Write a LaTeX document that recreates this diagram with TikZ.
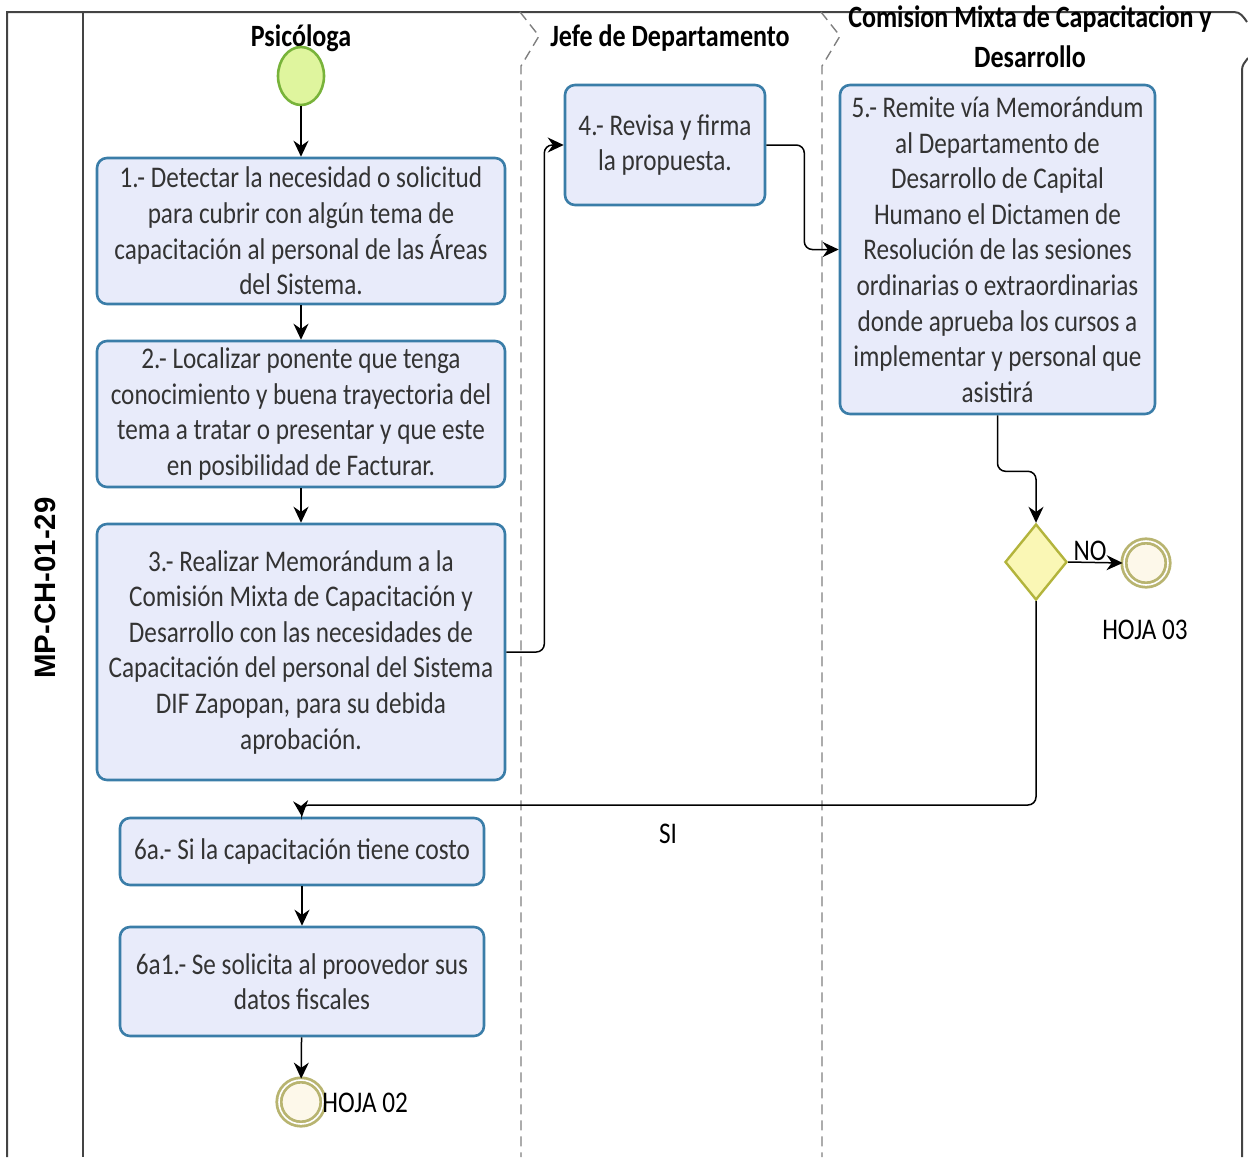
\documentclass[tikz,border=0pt]{standalone}
\usepackage{fontspec}
\setmainfont{Carlito}[FakeStretch=0.84]
\newfontfamily\labfont{Liberation Sans}
\usetikzlibrary{arrows.meta,shapes.geometric}
\definecolor{boxfill}{HTML}{E8EBFA}
\definecolor{boxline}{HTML}{3A7DA8}
\definecolor{startfill}{HTML}{DFF59E}
\definecolor{startline}{HTML}{78B33A}
\definecolor{gwfill}{HTML}{FAF7B5}
\definecolor{gwline}{HTML}{B3B43C}
\definecolor{endfill}{HTML}{FDF8EA}
\definecolor{endline}{HTML}{B8B470}
\definecolor{txt}{HTML}{333333}
\definecolor{lanegray}{HTML}{808080}
\definecolor{framegray}{HTML}{444444}
\begin{document}
\begin{tikzpicture}[x=0.5pt,y=-0.5pt,
  task/.style={draw=boxline, line width=1.3pt, fill=boxfill, rounded corners=5pt,
    align=center, font=\fontsize{15}{17.8}\selectfont, text=txt, inner sep=0pt},
  flow/.style={draw=black, line width=0.75pt, -{Stealth[length=8pt,width=7.5pt]}, rounded corners=4pt},
  lanetitle/.style={font=\fontsize{15.5}{18}\selectfont\bfseries, text=black, inner sep=0pt},
  plain/.style={font=\fontsize{15}{18}\selectfont, text=black, inner sep=0pt},
  endev/.style={circle, draw=endline, fill=endfill, line width=1.4pt, double=white,
    double distance=0.8pt, minimum size=20pt, inner sep=0pt},
  lanesep/.style={draw=lanegray, line width=0.7pt, dash pattern=on 5pt off 3pt}
]
\useasboundingbox (0,0) rectangle (1248,1157);
% frame
\draw[framegray, line width=1pt] (7,1157) -- (7,12) -- (1234,12) to[out=0,in=125] (1247,22);
\draw[framegray, line width=1pt] (1248,58) to[out=235,in=90] (1242,70) -- (1242,1157);
\draw[framegray, line width=1pt] (83,12) -- (83,1157);
% lane separators
\draw[lanesep] (520,12) -- (539,36) -- (521,66) -- (521,1157);
\draw[lanesep] (821,12) -- (840,36) -- (822,66) -- (822,1157);
% lane titles
\node[lanetitle] (l1) at (301,38) {Psicóloga};
\node[lanetitle] (l2) at (670,38) {Jefe de Departamento};
\node[lanetitle] (l3a) at (1030,19) {Comision Mixta de Capacitacion y};
\node[lanetitle] (l3b) at (1030,57) {Desarrollo};
% pool label
\node[rotate=90, font=\labfont\bfseries\fontsize{14.7}{17}\selectfont, inner sep=0pt] (pool) at (45,588) {MP-CH-01-29};
% events and tasks
\node[ellipse, draw=startline, fill=startfill, line width=1.3pt, minimum width=23pt, minimum height=29pt, inner sep=0pt] (start) at (301,76) {};
\node[task, minimum width=204pt, minimum height=73pt] (t1) at (301,231)
  {1.- Detectar la necesidad o solicitud\\para cubrir con algún tema de\\capacitación al personal de las Áreas\\del Sistema.};
\node[task, minimum width=204pt, minimum height=73pt] (t2) at (301,414)
  {2.- Localizar ponente que tenga\\conocimiento y buena trayectoria del\\tema a tratar o presentar y que este\\en posibilidad de Facturar.};
\node[task, minimum width=204pt, minimum height=128pt] (t3) at (301,652)
  {3.- Realizar Memorándum a la\\Comisión Mixta de Capacitación y\\Desarrollo con las necesidades de\\Capacitación del personal del Sistema\\DIF Zapopan, para su debida\\aprobación.};
\node[task, minimum width=100pt, minimum height=60pt] (t4) at (665,145)
  {4.- Revisa y firma\\la propuesta.};
\node[task, minimum width=157.5pt, minimum height=164.5pt] (t5) at (997.5,249.5)
  {5.- Remite vía Memorándum\\al Departamento de\\Desarrollo de Capital\\Humano el Dictamen de\\Resolución de las sesiones\\ordinarias o extraordinarias\\donde aprueba los cursos a\\implementar y personal que\\asistirá};
\node[diamond, draw=gwline, fill=gwfill, line width=1.2pt, minimum width=31pt, minimum height=38pt, inner sep=0pt] (gw) at (1036,562) {};
\node[endev, minimum size=22pt] (e3) at (1146,563) {};
\node[plain] (h3) at (1145,630) {HOJA 03};
\node[task, minimum width=182pt, minimum height=33.5pt] (t6) at (302,851.5)
  {6a.- Si la capacitación tiene costo};
\node[task, minimum width=182pt, minimum height=54.5pt] (t7) at (302,981.5)
  {6a1.- Se solicita al proovedor sus\\datos fiscales};
\node[endev, minimum size=22pt] (e2) at (301,1102) {};
\node[plain, anchor=west] (h2) at (322,1103) {HOJA 02};
\coordinate (j) at (301,805);
% connectors
\draw[flow] (start) -- (t1);
\draw[flow] (t1) -- (t2);
\draw[flow] (t2) -- (t3);
\draw[flow] (t3.east) -- ++(38,0) |- (t4.west);
\draw[flow] (t4.east) -- ++(38,0) |- (t5.west);
\draw[flow] (t5.south) -- ++(0,56) -| (gw.north);
\draw[flow] (gw.east) -- (e3.west);
\node[plain] (no) at (1090,551) {NO};
\draw[flow] (gw.south) |- (j) -- (t6.north);
\node[plain] (si) at (668,834) {SI};
\draw[flow] (t6) -- (t7);
\draw[flow] (t7) -- (e2);
\end{tikzpicture}
\end{document}
